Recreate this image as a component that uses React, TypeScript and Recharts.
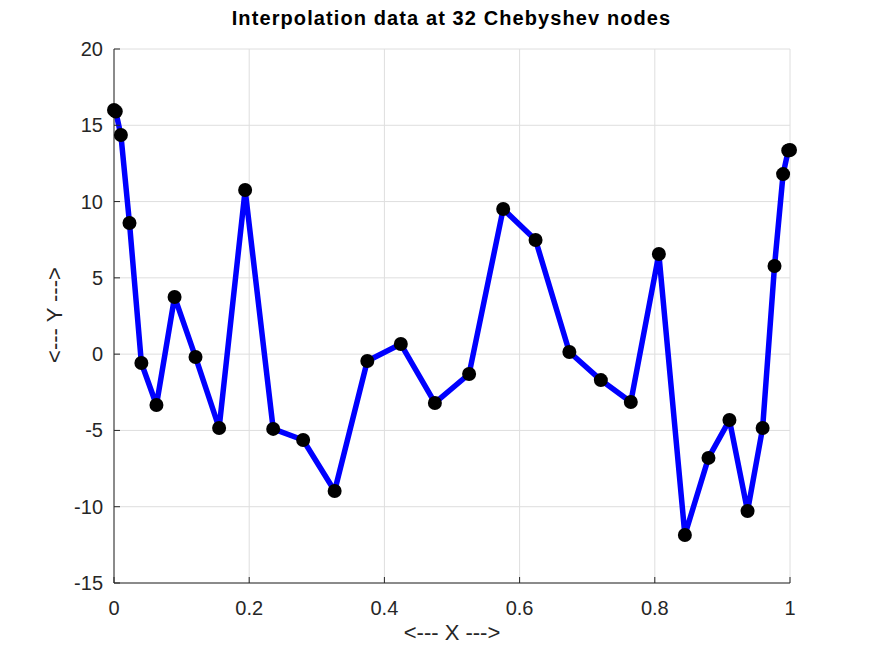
import { LineChart, Line, XAxis, YAxis, CartesianGrid } from 'recharts'

const nodesX = [
  0, 0.0026, 0.0102, 0.0229, 0.0405, 0.0628, 0.0896, 0.1206, 0.1555, 0.194, 0.2355,
  0.2798, 0.3264, 0.3747, 0.4243, 0.4747, 0.5253, 0.5757, 0.6236, 0.6736, 0.7202,
  0.7645, 0.806, 0.8445, 0.8794, 0.9104, 0.9372, 0.9595, 0.9771, 0.9898, 0.9974, 1,
]
const nodesY = [
  16.0, 15.9, 14.36, 8.6, -0.58, -3.33, 3.75, -0.19, -4.84, 10.76, -4.9,
  -5.63, -8.97, -0.45, 0.66, -3.2, -1.3, 9.51, 7.48, 0.14, -1.7,
  -3.14, 6.56, -11.85, -6.8, -4.32, -10.28, -4.84, 5.78, 11.8, 13.35, 13.38,
]
const xTicks = [0, 0.2, 0.4, 0.6, 0.8, 1]
const yTicks = [-15, -10, -5, 0, 5, 10, 15, 20]

const data = nodesX.map((x, i) => ({ x, y: nodesY[i] }))

const axisColor = '#262626'
const font = 'Liberation Sans, Arial, sans-serif'

type TickProps = { x?: number; y?: number; payload?: { value: number } }

const XTick = ({ x = 0, y = 0, payload }: TickProps) => (
  <g>
    <line x1={x} y1={y} x2={x} y2={y - 6} stroke={axisColor} strokeWidth={1} />
    <text x={x} y={y + 25} textAnchor="middle" dominantBaseline="central" fontSize={20} fill={axisColor} fontFamily={font}>
      {payload?.value}
    </text>
  </g>
)

const YTick = ({ x = 0, y = 0, payload }: TickProps) => (
  <g>
    <line x1={x} y1={y} x2={x + 6} y2={y} stroke={axisColor} strokeWidth={1} />
    <text x={x - 11} y={y} textAnchor="end" dominantBaseline="central" fontSize={20} fill={axisColor} fontFamily={font}>
      {payload?.value}
    </text>
  </g>
)

const Dot = (props: { cx?: number; cy?: number }) => {
  const { cx, cy } = props
  if (cx == null || cy == null) return null
  return <circle cx={cx} cy={cy} r={7} fill="#000" />
}

export default function App() {
  return (
    <div style={{ position: 'absolute', left: 0, top: 0, width: 873, height: 655, background: '#fff', fontFamily: font }}>
      <div style={{ position: 'absolute', left: 0, width: 903, top: 7, textAlign: 'center', fontWeight: 'bold', fontSize: 20, letterSpacing: 1.1, color: '#000' }}>
        Interpolation data at 32 Chebyshev nodes
      </div>
      <div style={{ position: 'absolute', left: 114, width: 676, top: 620, textAlign: 'center', fontSize: 22, color: axisColor }}>
        {'<--- X --->'}
      </div>
      <div style={{ position: 'absolute', left: 55, top: 315, width: 0, height: 0 }}>
        <div style={{ position: 'absolute', transform: 'translate(-50%, -50%) rotate(-90deg)', whiteSpace: 'nowrap', fontSize: 22, color: axisColor }}>
          {'<--- Y --->'}
        </div>
      </div>
      <LineChart
        width={873}
        height={655}
        data={data}
        margin={{ top: 49, right: 83, bottom: 42, left: 64 }}
        style={{ position: 'absolute', left: 0, top: 0 }}
      >
        <CartesianGrid stroke="#dedede" vertical horizontal />
        <XAxis
          dataKey="x"
          type="number"
          domain={[0, 1]}
          ticks={xTicks}
          height={30}
          stroke={axisColor}
          tickLine={false}
          tickSize={0}
          tickMargin={0}
          tick={<XTick />}
        />
        <YAxis
          type="number"
          domain={[-15, 20]}
          ticks={yTicks}
          width={50}
          stroke={axisColor}
          tickLine={false}
          tickSize={0}
          tickMargin={0}
          tick={<YTick />}
        />
        <Line
          dataKey="y"
          stroke="#0000ff"
          strokeWidth={5.5}
          strokeLinejoin="round"
          dot={<Dot />}
          activeDot={false}
          isAnimationActive={false}
        />
      </LineChart>
    </div>
  )
}
